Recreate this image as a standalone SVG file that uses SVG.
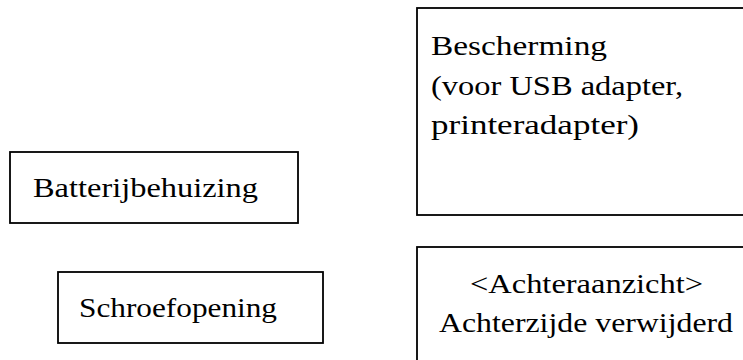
<svg xmlns="http://www.w3.org/2000/svg" width="743" height="360" viewBox="0 0 743 360">
<style>
.box{fill:#fff;stroke:#000;stroke-width:1.8}
.t{font-family:"Liberation Serif","Times New Roman",serif;font-size:28px;fill:#000}
</style>
<rect x="0" y="0" width="743" height="360" fill="#fff"/>
<g id="connectors"></g>
<g id="batterijbehuizing">
<rect class="box" x="10" y="152" width="288" height="71"/>
<text class="t" x="33" y="197" textLength="225" lengthAdjust="spacingAndGlyphs">Batterijbehuizing</text>
</g>
<g id="schroefopening">
<rect class="box" x="58" y="272" width="265" height="71"/>
<text class="t" x="79" y="317" textLength="198" lengthAdjust="spacingAndGlyphs">Schroefopening</text>
</g>
<g id="bescherming">
<rect class="box" x="417" y="8" width="340" height="207"/>
<text class="t" x="431" y="55" textLength="176" lengthAdjust="spacingAndGlyphs">Bescherming</text>
<text class="t" x="431" y="95" textLength="252" lengthAdjust="spacingAndGlyphs">(voor USB adapter,</text>
<text class="t" x="431" y="134" textLength="208" lengthAdjust="spacingAndGlyphs">printeradapter)</text>
</g>
<g id="achteraanzicht">
<rect class="box" x="417" y="247" width="340" height="130"/>
<text class="t" x="470" y="293" textLength="233" lengthAdjust="spacingAndGlyphs">&lt;Achteraanzicht&gt;</text>
<text class="t" x="439" y="332" textLength="294" lengthAdjust="spacingAndGlyphs">Achterzijde verwijderd</text>
</g>
</svg>
